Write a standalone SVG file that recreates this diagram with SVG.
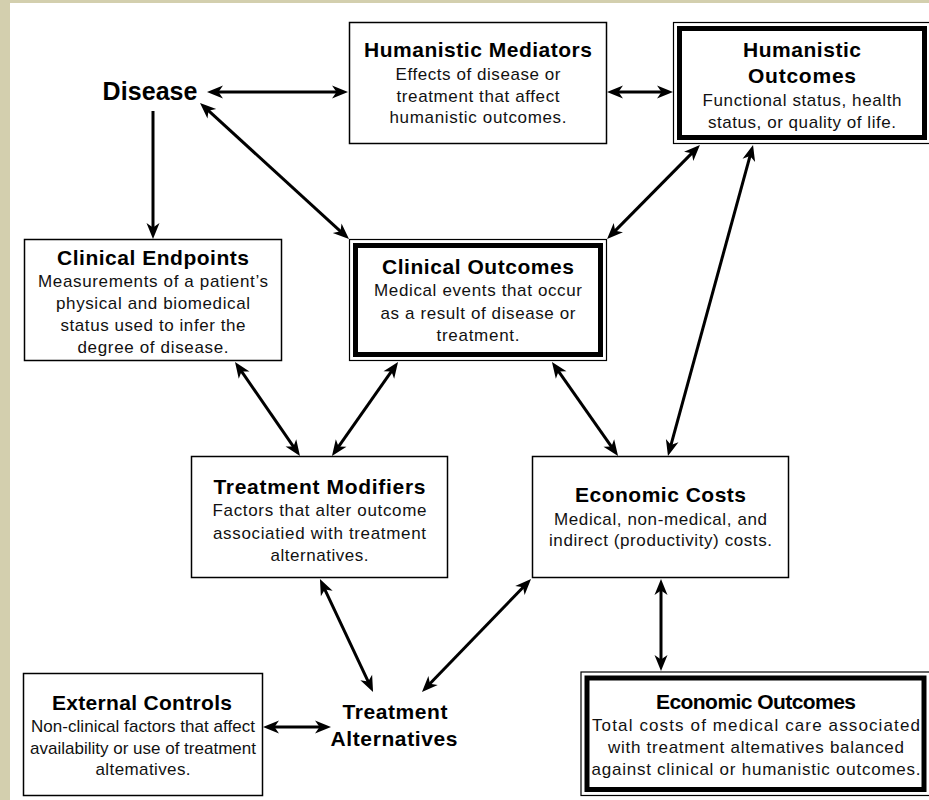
<svg xmlns="http://www.w3.org/2000/svg" width="929" height="800" viewBox="0 0 929 800">
<style>
.box{fill:#fff;stroke:#000;stroke-width:1.5}
.outer{fill:#fff;stroke:#000;stroke-width:1.2}
.thick{fill:none;stroke:#000;stroke-width:5}
.t{font-family:"Liberation Sans",Arial,sans-serif;font-weight:bold;font-size:21px;fill:#000;text-anchor:middle}
.b{font-family:"Liberation Sans",Arial,sans-serif;font-size:17px;fill:#111;text-anchor:middle}
.big{font-family:"Liberation Sans",Arial,sans-serif;font-weight:bold;font-size:25px;fill:#000;text-anchor:middle}
.c{fill:none;stroke:#000;stroke-width:3}
.bi{marker-start:url(#ah);marker-end:url(#ah)}
.one{marker-end:url(#ah)}
</style>
<defs>
<marker id="ah" viewBox="-7 -8 18 16" refX="0" refY="0" markerWidth="18" markerHeight="16" markerUnits="userSpaceOnUse" orient="auto-start-reverse">
<path d="M10,0 L-6,-6.5 L-1.5,0 L-6,6.5 Z" fill="#000"/>
</marker>
</defs>
<rect x="0" y="0" width="929" height="800" fill="#d3cfae"/>
<rect x="10" y="3" width="919" height="797" fill="#fff"/>

<g id="connectors">
<path class="c bi" d="M217,92 L338,92"/>
<path class="c bi" d="M617,92 L663,92"/>
<path class="c one" d="M153,111 L153,229"/>
<path class="c bi" d="M207.4,109.7 L341.6,232.3"/>
<path class="c bi" d="M614.1,231.9 L692.9,152.1"/>
<path class="c bi" d="M670.6,446.4 L750.4,154.6"/>
<path class="c bi" d="M240.7,370.2 L294.3,447.8"/>
<path class="c bi" d="M392.3,370.2 L337.7,447.8"/>
<path class="c bi" d="M557.7,370.2 L612.3,447.8"/>
<path class="c bi" d="M324.2,588.1 L368.8,682.9"/>
<path class="c bi" d="M524.1,586.2 L428.9,684.8"/>
<path class="c bi" d="M661,589 L661,661"/>
<path class="c bi" d="M273,727 L321,727"/>
</g>

<g id="disease">
<text class="big" x="150" y="100" textLength="95">Disease</text>
</g>

<g id="humanistic-mediators">
<rect class="box" x="349.5" y="22.5" width="257" height="121"/>
<text class="t" x="478" y="57" textLength="228">Humanistic Mediators</text>
<text class="b" x="478" y="80" textLength="165">Effects of disease or</text>
<text class="b" x="478" y="101.5" textLength="163">treatment that affect</text>
<text class="b" x="478" y="123" textLength="177">humanistic outcomes.</text>
</g>

<g id="humanistic-outcomes">
<rect class="outer" x="673.5" y="22.5" width="257" height="121"/>
<rect class="thick" x="679.5" y="28.5" width="245" height="109"/>
<text class="t" x="802" y="57" textLength="118">Humanistic</text>
<text class="t" x="802" y="83" textLength="108">Outcomes</text>
<text class="b" x="802" y="106" textLength="199">Functional status, health</text>
<text class="b" x="802" y="127.5" textLength="188">status, or quality of life.</text>
</g>

<g id="clinical-endpoints">
<rect class="box" x="24.5" y="239.5" width="257" height="121"/>
<text class="t" x="153" y="264.5" textLength="192">Clinical Endpoints</text>
<text class="b" x="153" y="286.5" textLength="230">Measurements of a patient’s</text>
<text class="b" x="153" y="309" textLength="194">physical and biomedical</text>
<text class="b" x="153" y="331" textLength="185">status used to infer the</text>
<text class="b" x="153" y="352.5" textLength="151">degree of disease.</text>
</g>

<g id="clinical-outcomes">
<rect class="outer" x="349.5" y="239.5" width="257" height="121"/>
<rect class="thick" x="355.5" y="245.5" width="245" height="109"/>
<text class="t" x="478" y="273.5" textLength="192">Clinical Outcomes</text>
<text class="b" x="478" y="296" textLength="208">Medical events that occur</text>
<text class="b" x="478" y="318.5" textLength="195">as a result of disease or</text>
<text class="b" x="478" y="340.5" textLength="83">treatment.</text>
</g>

<g id="treatment-modifiers">
<rect class="box" x="191.5" y="456.5" width="256" height="121"/>
<text class="t" x="319.5" y="493.5" textLength="212">Treatment Modifiers</text>
<text class="b" x="319.5" y="516" textLength="214">Factors that alter outcome</text>
<text class="b" x="319.5" y="538.5" textLength="213">associatied with treatment</text>
<text class="b" x="319.5" y="560.5" textLength="98">alternatives.</text>
</g>

<g id="economic-costs">
<rect class="box" x="532.5" y="456.5" width="256" height="121"/>
<text class="t" x="660.5" y="501.5" textLength="171">Economic Costs</text>
<text class="b" x="660.5" y="524.5" textLength="213">Medical, non-medical, and</text>
<text class="b" x="660.5" y="546" textLength="223">indirect (productivity) costs.</text>
</g>

<g id="external-controls">
<rect class="box" x="23.5" y="673.5" width="239" height="122"/>
<text class="t" x="142" y="709.5" textLength="180">External Controls</text>
<text class="b" x="143" y="731.5" textLength="224">Non-clinical factors that affect</text>
<text class="b" x="143" y="753.5" textLength="226">availability or use of treatment</text>
<text class="b" x="143" y="775" textLength="95">altematives.</text>
</g>

<g id="treatment-alternatives">
<text class="t" x="395" y="718.5" textLength="105">Treatment</text>
<text class="t" x="394" y="746" textLength="127">Alternatives</text>
</g>

<g id="economic-outcomes">
<rect class="outer" x="581" y="672" width="349" height="123.5"/>
<rect class="thick" x="587" y="678" width="337" height="111.5"/>
<text class="t" x="756" y="708.5" textLength="200">Economic Outcomes</text>
<text class="b" x="756" y="731" textLength="328">Total costs of medical care associated</text>
<text class="b" x="756" y="752.5" textLength="296">with treatment altematives balanced</text>
<text class="b" x="756" y="774.5" textLength="329">against clinical or humanistic outcomes.</text>
</g>
</svg>
